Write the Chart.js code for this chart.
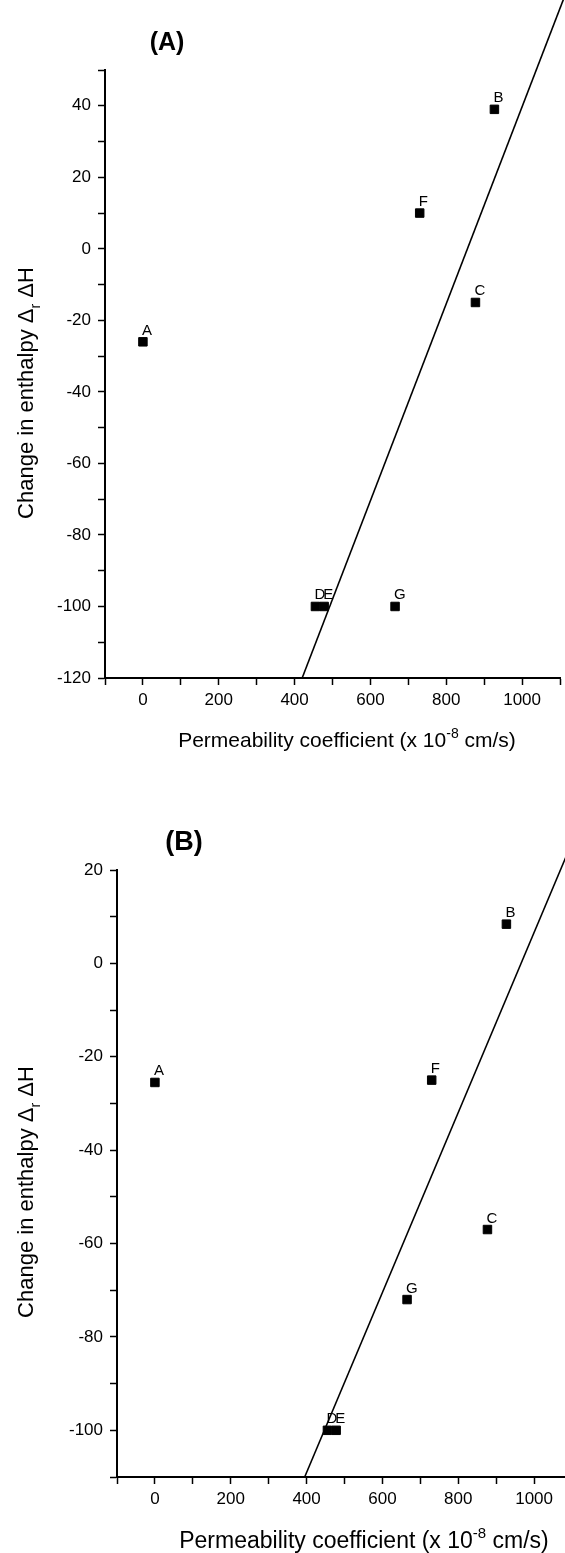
<!DOCTYPE html>
<html>
<head>
<meta charset="utf-8">
<script src="https://cdn.jsdelivr.net/npm/chart.js@4.4.1/dist/chart.umd.min.js"></script>
<style>
    html, body { margin: 0; padding: 0; background: #fff; overflow: hidden; }
    #wrap { position: relative; width: 565px; height: 1553px; overflow: hidden; }
    canvas { position: absolute; left: 0; }
    #chartA { top: 0; }
    #chartB { top: 790px; }
</style>
</head>
<body>
<div id="wrap">
    <canvas id="chartA" width="580" height="790"></canvas>
    <canvas id="chartB" width="580" height="763"></canvas>
</div>
<script>
// Values
const pointLetters = ['A', 'B', 'C', 'D', 'E', 'F', 'G'];
const permeability = [0, 927, 877, 455, 478, 730, 665];
const enthalpyA = [-26, 39, -15, -100, -100, 10, -100];
const enthalpyB = [-25.5, 8.4, -57, -100, -100, -25, -72];
const fitLineXA = [420, 1110];
const fitLineYA = [-120, 70];
const fitLineXB = [395, 1085];
const fitLineYB = [-110, 23];
const xTickLabels = [0, 200, 400, 600, 800, 1000];
const yTickLabelsA = [-120, -100, -80, -60, -40, -20, 0, 20, 40];
const yTickLabelsB = [-100, -80, -60, -40, -20, 0, 20];

const FONT = '"Liberation Sans", Arial, Helvetica, sans-serif';

function toPoints(xs, ys) {
    return xs.map((x, i) => ({ x: x, y: ys[i] }));
}

// Draws point letters, panel label and the axis titles (with sub/superscripts)
const annotate = {
    id: 'annotate',
    afterDatasetsDraw(chart, args, opts) {
        const ctx = chart.ctx;
        const meta = chart.getDatasetMeta(0);
        ctx.save();
        ctx.fillStyle = '#000';

        // point letters
        ctx.font = '15px ' + FONT;
        ctx.textAlign = 'left';
        ctx.textBaseline = 'alphabetic';
        meta.data.forEach((pt, i) => {
            ctx.fillText(pointLetters[i], pt.x - 1, pt.y - 7);
        });

        // panel label
        ctx.font = 'bold ' + opts.panelSize + 'px ' + FONT;
        ctx.textAlign = 'center';
        ctx.textBaseline = 'middle';
        ctx.fillText(opts.panel, opts.panelX, opts.panelY);

        // y title: Change in enthalpy Δr ΔH
        const fs = opts.yTitleSize;
        const big = fs + 'px ' + FONT;
        const small = Math.round(fs * 0.65) + 'px ' + FONT;
        ctx.textAlign = 'left';
        ctx.textBaseline = 'alphabetic';
        ctx.font = big;
        const p1 = 'Change in enthalpy \u0394';
        const p3 = ' \u0394H';
        const w1 = ctx.measureText(p1).width;
        const w3 = ctx.measureText(p3).width;
        ctx.font = small;
        const w2 = ctx.measureText('r').width;
        const total = w1 + w2 + w3;
        ctx.save();
        ctx.translate(opts.yTitleX, opts.yTitleY);
        ctx.rotate(-Math.PI / 2);
        let pos = -total / 2;
        ctx.font = big;
        ctx.fillText(p1, pos, 0);
        pos += w1;
        ctx.font = small;
        ctx.fillText('r', pos, fs * 0.3);
        pos += w2;
        ctx.font = big;
        ctx.fillText(p3, pos, 0);
        ctx.restore();

        // x title: Permeability coefficient (x 10^-8 cm/s)
        const xs = opts.xTitleSize;
        const xbig = xs + 'px ' + FONT;
        const xsmall = Math.round(xs * 0.65) + 'px ' + FONT;
        const q1 = 'Permeability coefficient (x 10';
        const q2 = '-8';
        const q3 = ' cm/s)';
        ctx.font = xbig;
        const v1 = ctx.measureText(q1).width;
        const v3 = ctx.measureText(q3).width;
        ctx.font = xsmall;
        const v2 = ctx.measureText(q2).width;
        let xp = opts.xTitleX - (v1 + v2 + v3) / 2;
        ctx.font = xbig;
        ctx.fillText(q1, xp, opts.xTitleY);
        xp += v1;
        ctx.font = xsmall;
        ctx.fillText(q2, xp, opts.xTitleY - xs * 0.45);
        xp += v2;
        ctx.font = xbig;
        ctx.fillText(q3, xp, opts.xTitleY);

        ctx.restore();
    }
};

function makeChart(canvasId, cfg) {
    const tickFont = { family: FONT, size: 17 };
    return new Chart(document.getElementById(canvasId), {
        type: 'scatter',
        data: {
            datasets: [{
                data: toPoints(permeability, cfg.enthalpy),
                pointStyle: 'rect',
                pointRadius: 6,
                backgroundColor: '#000',
                borderColor: '#000',
                borderWidth: 1,
                showLine: false
            }, {
                data: toPoints(cfg.lineX, cfg.lineY),
                showLine: true,
                pointRadius: 0,
                borderColor: '#000',
                borderWidth: 1.6,
                clip: false
            }]
        },
        options: {
            responsive: false,
            animation: false,
            events: [],
            layout: { padding: cfg.padding },
            plugins: {
                legend: { display: false },
                tooltip: { enabled: false },
                annotate: cfg.annotate
            },
            scales: {
                x: {
                    type: 'linear',
                    min: -100,
                    max: 1100,
                    afterFit: s => { s.height = cfg.xAxisHeight; },
                    ticks: {
                        stepSize: 100,
                        autoSkip: false,
                        maxRotation: 0,
                        color: '#000',
                        font: tickFont,
                        padding: 5,
                        callback: v => xTickLabels.includes(Math.round(v)) ? Math.round(v) : ''
                    },
                    grid: { drawOnChartArea: false, tickLength: 7, tickColor: '#000', tickWidth: 1.5 },
                    border: { color: '#000', width: 2 }
                },
                y: {
                    type: 'linear',
                    min: cfg.yMin,
                    max: cfg.yMax,
                    afterFit: s => { s.width = cfg.yAxisWidth; },
                    ticks: {
                        stepSize: 10,
                        autoSkip: false,
                        color: '#000',
                        font: tickFont,
                        padding: 7,
                        callback: v => cfg.yLabels.includes(Math.round(v)) ? Math.round(v) : ''
                    },
                    grid: { drawOnChartArea: false, tickLength: 7, tickColor: '#000', tickWidth: 1.5 },
                    border: { color: '#000', width: 2 }
                }
            }
        },
        plugins: [annotate]
    });
}

makeChart('chartA', {
    enthalpy: enthalpyA,
    lineX: fitLineXA,
    lineY: fitLineYA,
    yMin: -120,
    yMax: 50,
    yLabels: yTickLabelsA,
    yAxisWidth: 105,
    xAxisHeight: 112,
    padding: { top: 70, left: 0, right: 20, bottom: 0 },
    annotate: {
        panel: '(A)', panelSize: 25, panelX: 167, panelY: 43,
        yTitleSize: 22, yTitleX: 33, yTitleY: 393,
        xTitleSize: 21, xTitleX: 347, xTitleY: 747
    }
});

makeChart('chartB', {
    enthalpy: enthalpyB,
    lineX: fitLineXB,
    lineY: fitLineYB,
    yMin: -110,
    yMax: 20,
    yLabels: yTickLabelsB,
    yAxisWidth: 117,
    xAxisHeight: 76,
    padding: { top: 80, left: 0, right: 8, bottom: 0 },
    annotate: {
        panel: '(B)', panelSize: 27, panelX: 184, panelY: 53,
        yTitleSize: 22, yTitleX: 33, yTitleY: 402,
        xTitleSize: 23, xTitleX: 364, xTitleY: 758
    }
});
</script>
</body>
</html>
